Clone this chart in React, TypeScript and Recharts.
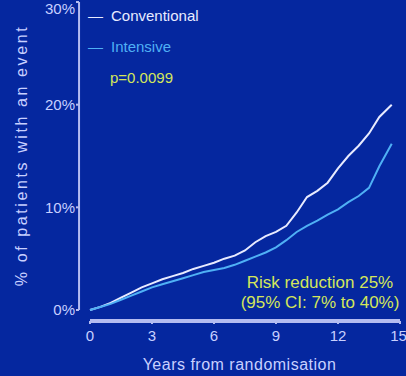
import React from 'react';
import { LineChart, Line, XAxis, YAxis, Legend, ReferenceLine } from 'recharts';

// years from randomisation
const years = [0, 0.5, 1, 1.5, 2, 2.5, 3, 3.5, 4, 4.5, 5, 5.5, 6, 6.5, 7, 7.5, 8, 8.5, 9, 9.5, 10, 10.5, 11, 11.5, 12, 12.5, 13, 13.5, 14, 14.6];
// % of patients with an event
const conventional = [0, 0.3, 0.7, 1.2, 1.7, 2.2, 2.6, 3.0, 3.3, 3.6, 4.0, 4.3, 4.6, 5.0, 5.3, 5.8, 6.6, 7.2, 7.6, 8.2, 9.5, 11.0, 11.6, 12.4, 13.8, 15.0, 16.0, 17.2, 18.8, 20.0];
const intensive = [0, 0.3, 0.6, 1.0, 1.4, 1.8, 2.2, 2.5, 2.8, 3.1, 3.4, 3.7, 3.9, 4.1, 4.4, 4.8, 5.2, 5.6, 6.1, 6.8, 7.6, 8.2, 8.7, 9.3, 9.8, 10.5, 11.1, 11.9, 14.0, 16.2];

const xTicks = [0, 3, 6, 9, 12, 15];
const yTicks = [0, 10, 20, 30];
const pValue = 'p=0.0099';
const riskText = ['Risk reduction 25%', '(95% CI: 7% to 40%)'];

const data = years.map((year, i) => ({
  year,
  conventional: conventional[i],
  intensive: intensive[i],
}));

const BG = '#05279f';
const AXIS = '#b4bcf0';
const TEXT = '#c8d0ff';
const WHITE = '#e8ebff';
const LIGHTBLUE = '#4fb0f5';
const YELLOW = '#d4e65a';

const LegendBox = (props: any) => {
  const items = props.payload || [];
  return (
    <div style={{ fontSize: 15, lineHeight: '31px', textAlign: 'left' }}>
      {items.map((it: any) => (
        <div key={it.value} style={{ color: it.value === 'Conventional' ? WHITE : LIGHTBLUE }}>
          <span style={{ color: it.color, marginRight: 8 }}>—</span>
          {it.value}
        </div>
      ))}
      <div style={{ color: YELLOW, paddingLeft: 22 }}>{pValue}</div>
    </div>
  );
};

export default function App() {
  return (
    <div
      style={{
        position: 'absolute',
        left: 0,
        top: 0,
        width: 406,
        height: 376,
        background: BG,
        fontFamily: '"Liberation Sans", Arial, sans-serif',
      }}
    >
      <LineChart width={406} height={376} data={data} margin={{ top: 2, right: 6, bottom: 0, left: 0 }}>
        <XAxis
          dataKey="year"
          type="number"
          domain={[0, 15]}
          ticks={xTicks}
          padding={{ left: 11 }}
          axisLine={false}
          tickLine={{ stroke: AXIS, strokeWidth: 2 }}
          tickSize={3}
          tickMargin={6}
          tick={{ fill: TEXT, fontSize: 15 }}
          height={55}
          label={{ value: 'Years from randomisation', position: 'insideBottom', offset: 6, fill: TEXT, fontSize: 16, letterSpacing: 0.5 }}
        />
        <YAxis
          type="number"
          domain={[0, 30]}
          ticks={yTicks}
          padding={{ bottom: 11 }}
          tickFormatter={(v: number) => `${v}%`}
          width={79}
          axisLine={false}
          tickLine={{ stroke: AXIS, strokeWidth: 2 }}
          tickSize={3}
          tickMargin={1}
          tick={{ fill: TEXT, fontSize: 15 }}
          label={{
            value: '% of patients with an event',
            angle: -90,
            position: 'insideLeft',
            offset: 21,
            dy: -6,
            fill: TEXT,
            fontSize: 16,
            letterSpacing: 2.6,
            style: { textAnchor: 'middle' },
          }}
        />
        <ReferenceLine
          segment={[{ x: -0.53, y: 0 }, { x: -0.53, y: 30 }]}
          stroke={AXIS}
          strokeWidth={2}
          ifOverflow="visible"
        />
        <ReferenceLine
          segment={[{ x: 0, y: -1.07 }, { x: 15, y: -1.07 }]}
          stroke={AXIS}
          strokeWidth={4}
          ifOverflow="visible"
        />
        <Legend
          layout="horizontal"
          verticalAlign="middle"
          align="center"
          content={<LegendBox />}
          wrapperStyle={{ left: 88, top: 0, width: 160 }}
        />
        <Line
          type="linear"
          dataKey="conventional"
          name="Conventional"
          stroke={WHITE}
          strokeWidth={2}
          dot={false}
          isAnimationActive={false}
        />
        <Line
          type="linear"
          dataKey="intensive"
          name="Intensive"
          stroke={LIGHTBLUE}
          strokeWidth={2}
          dot={false}
          isAnimationActive={false}
        />
      </LineChart>
      <div
        style={{
          position: 'absolute',
          right: 0,
          top: 273,
          width: 172,
          textAlign: 'center',
          color: YELLOW,
          fontSize: 17,
          lineHeight: '20px',
        }}
      >
        {riskText.map((t) => (
          <div key={t}>{t}</div>
        ))}
      </div>
    </div>
  );
}
